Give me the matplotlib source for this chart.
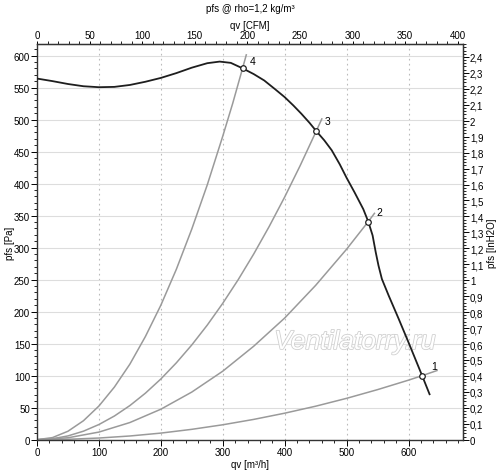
import matplotlib.pyplot as plt
import matplotlib.patheffects as pe
from matplotlib.ticker import MultipleLocator, FuncFormatter

plt.rcParams['font.family'] = ['Liberation Sans', 'DejaVu Sans']
plt.rcParams['font.size'] = 7

# fan curve, qv [m3/h] vs pfs [Pa]
fan_qv = [0, 25, 50, 75, 100, 125, 150, 175, 200, 225, 250, 275, 295, 313, 332, 350, 367,
          385, 400, 414, 427, 440, 451, 464, 476, 489, 500, 513, 527, 535, 542, 547, 551.5,
          557, 568, 584, 600, 622, 634]
fan_pfs = [564, 560, 555.5, 552, 550.5, 551, 554, 559, 565, 572.5, 581, 588, 590.5, 588.5, 580,
           571, 561, 547, 535, 522, 509, 495, 482, 467.5, 452, 430, 409, 386, 360, 340.6, 319,
           293, 272, 251, 225, 189, 152, 100, 71]

# system curves
sys1_qv = [0, 50, 100, 150, 200, 250, 300, 350, 400, 450, 500, 550, 600, 622, 646]
sys1_pfs = [0, 0.65, 2.6, 5.8, 10.3, 16.2, 23.3, 31.7, 41.4, 52.3, 64.6, 78.2, 93, 100, 108]

sys2_qv = [0, 50, 100, 150, 200, 250, 300, 350, 400, 450, 500, 535, 545]
sys2_pfs = [0, 3, 11.9, 26.8, 47.6, 74.4, 107, 146, 190, 241, 297.5, 340.6, 353.5]

sys3_qv = [0, 25, 50, 75, 100, 125, 150, 175, 200, 225, 250, 275, 300, 325, 350, 375, 400, 425, 451, 460]
sys3_pfs = [0, 1.5, 5.9, 13.3, 23.7, 37, 53.3, 72.6, 94.8, 120, 148, 179, 213, 250, 290, 333, 379, 428, 482, 501]

sys4_qv = [0, 25, 50, 75, 100, 125, 150, 175, 200, 225, 250, 275, 300, 316, 332, 338]
sys4_pfs = [0, 3.3, 13.2, 29.6, 52.6, 82.2, 118, 161, 210, 266, 329, 398, 474, 525, 580, 601]

points_qv = [622, 535, 451, 332]
points_pfs = [100, 340.6, 482, 580]
point_labels = ["1", "2", "3", "4"]

cfm_ticks = [0, 50, 100, 150, 200, 250, 300, 350, 400]
inh2o_ticks = [0, 0.1, 0.2, 0.3, 0.4, 0.5, 0.6, 0.7, 0.8, 0.9, 1.0, 1.1, 1.2,
               1.3, 1.4, 1.5, 1.6, 1.7, 1.8, 1.9, 2.0, 2.1, 2.2, 2.3, 2.4]

fig = plt.figure(figsize=(5.0, 4.77), dpi=100)
ax = fig.add_axes([0.074, 0.0761, 0.852, 0.8296])

sys_color = "#9a9a9a"
systems = [(sys1_qv, sys1_pfs), (sys2_qv, sys2_pfs), (sys3_qv, sys3_pfs), (sys4_qv, sys4_pfs)]
for qv, pfs in systems:
    ax.plot(qv, pfs, color=sys_color, lw=1.1, zorder=2)

# numbers near the upper ends of the system curves (offset in points)
label_offsets = [(-2.4, 3.4), (3.6, 0.7), (4.1, -1.7), (4.8, -4.1)]
for (qv, pfs), lab, off in zip(systems, point_labels, label_offsets):
    ax.annotate(lab, (qv[-1], pfs[-1]), xytext=off, textcoords="offset points",
                fontsize=7.5, ha="center", va="center")

ax.plot(fan_qv, fan_pfs, color="#1e1e1e", lw=1.3, zorder=3)
ax.plot(points_qv, points_pfs, "o", ms=4, mfc="white", mec="#1e1e1e", mew=0.9, zorder=4)

ax.set_xlim(0, 688)
ax.set_ylim(0, 618)

ax.xaxis.set_major_locator(MultipleLocator(100))
ax.xaxis.set_minor_locator(MultipleLocator(20))
ax.yaxis.set_major_locator(MultipleLocator(50))
ax.yaxis.set_minor_locator(MultipleLocator(10))

ax.grid(axis="y", which="major", color="#dddddd", lw=0.8, ls="-")
ax.grid(axis="x", which="major", color="#bbbbbb", lw=0.8, ls=(0, (1.5, 3)))
ax.set_axisbelow(True)

ax.tick_params(which="major", length=4, width=0.7, direction="out", pad=1)
ax.tick_params(which="minor", length=2, width=0.6, direction="out")
for s in ax.spines.values():
    s.set_linewidth(1.0)
    s.set_color("#333333")

ax.set_xlabel("qv [m³/h]")
ax.xaxis.set_label_coords(0.5, -0.05)

# top axis in CFM
top = ax.secondary_xaxis("top", functions=(lambda q: q / 1.699, lambda c: c * 1.699))
top.set_xticks(cfm_ticks)
top.xaxis.set_minor_locator(MultipleLocator(10))
top.tick_params(which="major", length=2.5, width=0.7, pad=0.5)
top.tick_params(which="minor", length=2, width=0.6)
top.set_xlabel("qv [CFM]", labelpad=1)

# right axis in inH2O
right = ax.secondary_yaxis("right", functions=(lambda p: p / 249.09, lambda w: w * 249.09))
right.set_yticks(inh2o_ticks)
right.yaxis.set_minor_locator(MultipleLocator(0.02))
right.yaxis.set_major_formatter(FuncFormatter(
    lambda v, pos: ("%.1f" % v).rstrip("0").rstrip(".").replace(".", ",")))
right.tick_params(which="major", length=4, width=0.7, pad=1)
right.tick_params(which="minor", length=2, width=0.6)

# axis titles on the sides
fig.text(10 / 500, 0.4906, "pfs [Pa]", rotation=90, ha="center", va="center", fontsize=7)
fig.text(492 / 500, 0.4906, "pfs [InH2O]", rotation=90, ha="center", va="center", fontsize=7)

fig.text(0.5, 1 - 9 / 477, "pfs @ rho=1,2 kg/m³", ha="center", va="center", fontsize=7)

# watermark
ax.text(0.746, 0.247, "Ventilatorry.ru", transform=ax.transAxes, fontsize=19,
        style="italic", color="white", ha="center", va="center", zorder=1,
        path_effects=[pe.withStroke(linewidth=1.2, foreground="#d0d0d0")])

plt.savefig("out.png", dpi=100)
plt.close()
